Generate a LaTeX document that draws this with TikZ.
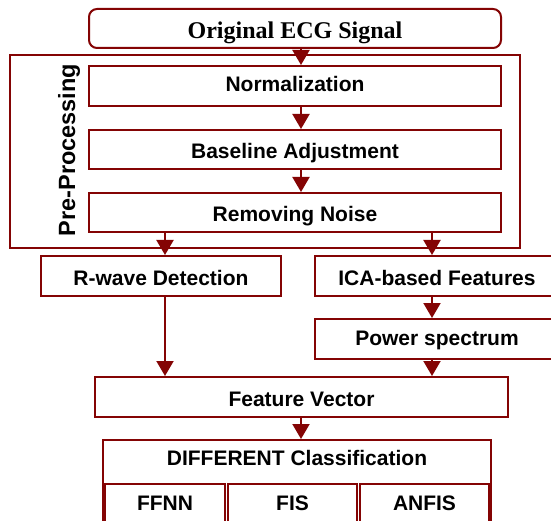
\documentclass[tikz,border=0pt]{standalone}
\usepackage{fontspec}
\setmainfont{Liberation Sans}
\newfontfamily\serifbold{Liberation Serif}
\usetikzlibrary{arrows.meta}
\definecolor{dred}{RGB}{132,4,4}
\tikzset{
  box/.style={draw=dred, line width=2pt, inner sep=0pt, text height=18pt, text depth=0pt,
              font=\fontsize{21}{23}\selectfont\bfseries},
  arr/.style={draw=dred, line width=2pt, -{Triangle[width=17pt,length=15pt]}}
}
\begin{document}
\begin{tikzpicture}[x=1pt,y=-1pt]
\useasboundingbox (0,0) rectangle (551,521);
\clip (0,0) rectangle (551,521);
\fill[white] (0,0) rectangle (551,521);

% arrow columns
\coordinate (mid) at (301,0);
\coordinate (lc) at (165,0);
\coordinate (rc) at (432,0);

% input signal
\node[box, rounded corners=8pt, minimum width=412pt, minimum height=39pt, text height=21pt,
      font=\fontsize{24}{26}\selectfont\serifbold\bfseries] (ecg) at (295,28.5) {Original ECG Signal};

% pre-processing stage
\node[box, minimum width=510pt, minimum height=193pt] (pre) at (265,151.5) {};
\node[rotate=90, font=\fontsize{23.5}{25}\selectfont\bfseries] (prelabel) at (69,150) {Pre-Processing};
\node[box, minimum width=412pt, minimum height=40pt, text height=12pt] (norm) at (295,86) {Normalization};
\node[box, minimum width=412pt, minimum height=39pt] (base) at (295,149.5) {Baseline Adjustment};
\node[box, minimum width=412pt, minimum height=39pt] (rem) at (295,212.5) {Removing Noise};

% feature extraction
\node[box, minimum width=240pt, minimum height=40pt] (rwave) at (161,276) {R-wave Detection};
\node[box, minimum width=244pt, minimum height=40pt] (ica) at (437,276) {ICA-based Features};
\node[box, minimum width=244pt, minimum height=40pt, text height=13pt] (power) at (437,339) {Power spectrum};
\node[box, minimum width=413pt, minimum height=40pt] (feat) at (301.5,397) {Feature Vector};

% classifiers
\node[box, minimum width=388pt, minimum height=92pt] (diff) at (297,486) {};
\node[font=\fontsize{21}{23}\selectfont\bfseries, text height=15pt, text depth=0pt] (difflabel) at (297,458) {DIFFERENT Classification};
\node[box, minimum width=120pt, minimum height=44pt, text height=15pt, text depth=7pt] (ffnn) at (165,506) {FFNN};
\node[box, minimum width=129pt, minimum height=44pt, text height=15pt, text depth=7pt] (fis) at (292.5,506) {FIS};
\node[box, minimum width=129pt, minimum height=44pt, text height=15pt, text depth=7pt] (anfis) at (424.5,506) {ANFIS};

% connectors
\draw[arr] (ecg.south -| mid) -- (norm.north -| mid);
\draw[arr] (norm.south -| mid) -- (base.north -| mid);
\draw[arr] (base.south -| mid) -- (rem.north -| mid);
\draw[arr] (rem.south -| lc) -- (rwave.north -| lc);
\draw[arr] (rem.south -| rc) -- (ica.north -| rc);
\draw[arr] (ica.south -| rc) -- (power.north -| rc);
\draw[arr] (rwave.south -| lc) -- (feat.north -| lc);
\draw[arr] (power.south -| rc) -- (feat.north -| rc);
\draw[arr] (feat.south -| mid) -- (diff.north -| mid);
\end{tikzpicture}
\end{document}
